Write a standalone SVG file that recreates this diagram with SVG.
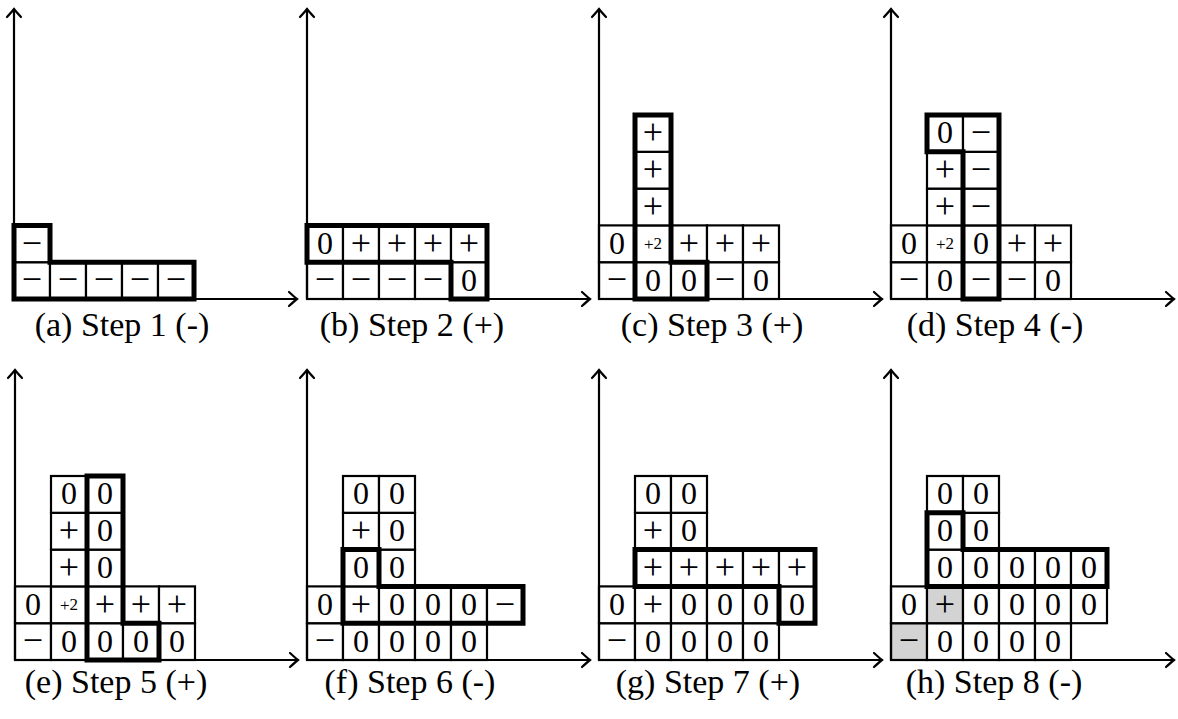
<svg xmlns="http://www.w3.org/2000/svg" width="1178" height="719" viewBox="0 0 1178 719">
<style>
.bg{fill:#fff}
.c{fill:#fff;stroke:#000;stroke-width:2.2}
.g{fill:#d3d3d3;stroke:#000;stroke-width:2.2}
.k{fill:none;stroke:#000;stroke-width:5;stroke-linejoin:miter}
.ax{fill:none;stroke:#000;stroke-width:2.2}
.t{font-family:"Liberation Serif",serif;font-size:32px;text-anchor:middle;fill:#000}
.s{font-family:"Liberation Serif",serif;font-size:36px;text-anchor:middle;fill:#000;transform:translate(0px,0.8px)}
.q{font-family:"Liberation Serif",serif;font-size:17px;text-anchor:middle;fill:#000}
.cap{font-family:"Liberation Serif",serif;font-size:34px;text-anchor:middle;fill:#000}
</style>
<defs>
<marker id="ar" markerUnits="userSpaceOnUse" markerWidth="20" markerHeight="20" viewBox="-10 -10 20 20" refX="0" refY="0" orient="auto">
<path d="M-8,-7 Q-2,-1.5 0,0 Q-2,1.5 -8,7" fill="none" stroke="#000" stroke-width="2.2" stroke-linecap="round"/>
</marker>
</defs>
<rect class="bg" x="0" y="0" width="1178" height="719"/>

<g id="panel-a" transform="translate(14,299)">
<rect class="c" x="0" y="-36.8" width="36" height="36.8"/><rect class="c" x="36" y="-36.8" width="36" height="36.8"/><rect class="c" x="72" y="-36.8" width="36" height="36.8"/><rect class="c" x="108" y="-36.8" width="36" height="36.8"/><rect class="c" x="144" y="-36.8" width="36" height="36.8"/>
<rect class="c" x="0" y="-73.6" width="36" height="36.8"/>
<text class="s" x="18" y="-8.4">−</text><text class="s" x="54" y="-8.4">−</text><text class="s" x="90" y="-8.4">−</text><text class="s" x="126" y="-8.4">−</text><text class="s" x="162" y="-8.4">−</text>
<text class="s" x="18" y="-45.2">−</text>
<polygon class="k" points="0,0 180,0 180,-36.8 36,-36.8 36,-73.6 0,-73.6"/>
</g>

<g id="panel-b" transform="translate(307,299)">
<rect class="c" x="0" y="-36.8" width="36" height="36.8"/><rect class="c" x="36" y="-36.8" width="36" height="36.8"/><rect class="c" x="72" y="-36.8" width="36" height="36.8"/><rect class="c" x="108" y="-36.8" width="36" height="36.8"/><rect class="c" x="144" y="-36.8" width="36" height="36.8"/>
<rect class="c" x="0" y="-73.6" width="36" height="36.8"/><rect class="c" x="36" y="-73.6" width="36" height="36.8"/><rect class="c" x="72" y="-73.6" width="36" height="36.8"/><rect class="c" x="108" y="-73.6" width="36" height="36.8"/><rect class="c" x="144" y="-73.6" width="36" height="36.8"/>
<text class="s" x="18" y="-8.4">−</text><text class="s" x="54" y="-8.4">−</text><text class="s" x="90" y="-8.4">−</text><text class="s" x="126" y="-8.4">−</text><text class="t" x="162" y="-8.4">0</text>
<text class="t" x="18" y="-45.2">0</text><text class="s" x="54" y="-45.2">+</text><text class="s" x="90" y="-45.2">+</text><text class="s" x="126" y="-45.2">+</text><text class="s" x="162" y="-45.2">+</text>
<polygon class="k" points="0,-36.8 144,-36.8 144,0 180,0 180,-73.6 0,-73.6"/>
</g>

<g id="panel-c" transform="translate(599,299)">
<rect class="c" x="0" y="-36.8" width="36" height="36.8"/><rect class="c" x="36" y="-36.8" width="36" height="36.8"/><rect class="c" x="72" y="-36.8" width="36" height="36.8"/><rect class="c" x="108" y="-36.8" width="36" height="36.8"/><rect class="c" x="144" y="-36.8" width="36" height="36.8"/>
<rect class="c" x="0" y="-73.6" width="36" height="36.8"/><rect class="c" x="36" y="-73.6" width="36" height="36.8"/><rect class="c" x="72" y="-73.6" width="36" height="36.8"/><rect class="c" x="108" y="-73.6" width="36" height="36.8"/><rect class="c" x="144" y="-73.6" width="36" height="36.8"/>
<rect class="c" x="36" y="-110.4" width="36" height="36.8"/><rect class="c" x="36" y="-147.2" width="36" height="36.8"/><rect class="c" x="36" y="-184" width="36" height="36.8"/>
<text class="s" x="18" y="-8.4">−</text><text class="t" x="54" y="-8.4">0</text><text class="t" x="90" y="-8.4">0</text><text class="s" x="126" y="-8.4">−</text><text class="t" x="162" y="-8.4">0</text>
<text class="t" x="18" y="-45.2">0</text><text class="q" x="54" y="-49.5">+<tspan dy="-1">2</tspan></text><text class="s" x="90" y="-45.2">+</text><text class="s" x="126" y="-45.2">+</text><text class="s" x="162" y="-45.2">+</text>
<text class="s" x="54" y="-82">+</text><text class="s" x="54" y="-118.8">+</text><text class="s" x="54" y="-155.6">+</text>
<polygon class="k" points="36,0 108,0 108,-36.8 72,-36.8 72,-184 36,-184"/>
</g>

<g id="panel-d" transform="translate(891,299)">
<rect class="c" x="0" y="-36.8" width="36" height="36.8"/><rect class="c" x="36" y="-36.8" width="36" height="36.8"/><rect class="c" x="72" y="-36.8" width="36" height="36.8"/><rect class="c" x="108" y="-36.8" width="36" height="36.8"/><rect class="c" x="144" y="-36.8" width="36" height="36.8"/>
<rect class="c" x="0" y="-73.6" width="36" height="36.8"/><rect class="c" x="36" y="-73.6" width="36" height="36.8"/><rect class="c" x="72" y="-73.6" width="36" height="36.8"/><rect class="c" x="108" y="-73.6" width="36" height="36.8"/><rect class="c" x="144" y="-73.6" width="36" height="36.8"/>
<rect class="c" x="36" y="-110.4" width="36" height="36.8"/><rect class="c" x="72" y="-110.4" width="36" height="36.8"/>
<rect class="c" x="36" y="-147.2" width="36" height="36.8"/><rect class="c" x="72" y="-147.2" width="36" height="36.8"/>
<rect class="c" x="36" y="-184" width="36" height="36.8"/><rect class="c" x="72" y="-184" width="36" height="36.8"/>
<text class="s" x="18" y="-8.4">−</text><text class="t" x="54" y="-8.4">0</text><text class="s" x="90" y="-8.4">−</text><text class="s" x="126" y="-8.4">−</text><text class="t" x="162" y="-8.4">0</text>
<text class="t" x="18" y="-45.2">0</text><text class="q" x="54" y="-49.5">+<tspan dy="-1">2</tspan></text><text class="t" x="90" y="-45.2">0</text><text class="s" x="126" y="-45.2">+</text><text class="s" x="162" y="-45.2">+</text>
<text class="s" x="54" y="-82">+</text><text class="s" x="90" y="-82">−</text>
<text class="s" x="54" y="-118.8">+</text><text class="s" x="90" y="-118.8">−</text>
<text class="t" x="54" y="-155.6">0</text><text class="s" x="90" y="-155.6">−</text>
<polygon class="k" points="72,0 108,0 108,-184 36,-184 36,-147.2 72,-147.2"/>
</g>

<g id="panel-e" transform="translate(15,660)">
<rect class="c" x="0" y="-36.8" width="36" height="36.8"/><rect class="c" x="36" y="-36.8" width="36" height="36.8"/><rect class="c" x="72" y="-36.8" width="36" height="36.8"/><rect class="c" x="108" y="-36.8" width="36" height="36.8"/><rect class="c" x="144" y="-36.8" width="36" height="36.8"/>
<rect class="c" x="0" y="-73.6" width="36" height="36.8"/><rect class="c" x="36" y="-73.6" width="36" height="36.8"/><rect class="c" x="72" y="-73.6" width="36" height="36.8"/><rect class="c" x="108" y="-73.6" width="36" height="36.8"/><rect class="c" x="144" y="-73.6" width="36" height="36.8"/>
<rect class="c" x="36" y="-110.4" width="36" height="36.8"/><rect class="c" x="72" y="-110.4" width="36" height="36.8"/>
<rect class="c" x="36" y="-147.2" width="36" height="36.8"/><rect class="c" x="72" y="-147.2" width="36" height="36.8"/>
<rect class="c" x="36" y="-184" width="36" height="36.8"/><rect class="c" x="72" y="-184" width="36" height="36.8"/>
<text class="s" x="18" y="-8.4">−</text><text class="t" x="54" y="-8.4">0</text><text class="t" x="90" y="-8.4">0</text><text class="t" x="126" y="-8.4">0</text><text class="t" x="162" y="-8.4">0</text>
<text class="t" x="18" y="-45.2">0</text><text class="q" x="54" y="-49.5">+<tspan dy="-1">2</tspan></text><text class="s" x="90" y="-45.2">+</text><text class="s" x="126" y="-45.2">+</text><text class="s" x="162" y="-45.2">+</text>
<text class="s" x="54" y="-82">+</text><text class="t" x="90" y="-82">0</text>
<text class="s" x="54" y="-118.8">+</text><text class="t" x="90" y="-118.8">0</text>
<text class="t" x="54" y="-155.6">0</text><text class="t" x="90" y="-155.6">0</text>
<polygon class="k" points="72,0 144,0 144,-36.8 108,-36.8 108,-184 72,-184"/>
</g>

<g id="panel-f" transform="translate(307,660)">
<rect class="c" x="0" y="-36.8" width="36" height="36.8"/><rect class="c" x="36" y="-36.8" width="36" height="36.8"/><rect class="c" x="72" y="-36.8" width="36" height="36.8"/><rect class="c" x="108" y="-36.8" width="36" height="36.8"/><rect class="c" x="144" y="-36.8" width="36" height="36.8"/>
<rect class="c" x="0" y="-73.6" width="36" height="36.8"/><rect class="c" x="36" y="-73.6" width="36" height="36.8"/><rect class="c" x="72" y="-73.6" width="36" height="36.8"/><rect class="c" x="108" y="-73.6" width="36" height="36.8"/><rect class="c" x="144" y="-73.6" width="36" height="36.8"/><rect class="c" x="180" y="-73.6" width="36" height="36.8"/>
<rect class="c" x="36" y="-110.4" width="36" height="36.8"/><rect class="c" x="72" y="-110.4" width="36" height="36.8"/>
<rect class="c" x="36" y="-147.2" width="36" height="36.8"/><rect class="c" x="72" y="-147.2" width="36" height="36.8"/>
<rect class="c" x="36" y="-184" width="36" height="36.8"/><rect class="c" x="72" y="-184" width="36" height="36.8"/>
<text class="s" x="18" y="-8.4">−</text><text class="t" x="54" y="-8.4">0</text><text class="t" x="90" y="-8.4">0</text><text class="t" x="126" y="-8.4">0</text><text class="t" x="162" y="-8.4">0</text>
<text class="t" x="18" y="-45.2">0</text><text class="s" x="54" y="-45.2">+</text><text class="t" x="90" y="-45.2">0</text><text class="t" x="126" y="-45.2">0</text><text class="t" x="162" y="-45.2">0</text><text class="s" x="198" y="-45.2">−</text>
<text class="t" x="54" y="-82">0</text><text class="t" x="90" y="-82">0</text>
<text class="s" x="54" y="-118.8">+</text><text class="t" x="90" y="-118.8">0</text>
<text class="t" x="54" y="-155.6">0</text><text class="t" x="90" y="-155.6">0</text>
<polygon class="k" points="36,-36.8 216,-36.8 216,-73.6 72,-73.6 72,-110.4 36,-110.4"/>
</g>

<g id="panel-g" transform="translate(599,660)">
<rect class="c" x="0" y="-36.8" width="36" height="36.8"/><rect class="c" x="36" y="-36.8" width="36" height="36.8"/><rect class="c" x="72" y="-36.8" width="36" height="36.8"/><rect class="c" x="108" y="-36.8" width="36" height="36.8"/><rect class="c" x="144" y="-36.8" width="36" height="36.8"/>
<rect class="c" x="0" y="-73.6" width="36" height="36.8"/><rect class="c" x="36" y="-73.6" width="36" height="36.8"/><rect class="c" x="72" y="-73.6" width="36" height="36.8"/><rect class="c" x="108" y="-73.6" width="36" height="36.8"/><rect class="c" x="144" y="-73.6" width="36" height="36.8"/><rect class="c" x="180" y="-73.6" width="36" height="36.8"/>
<rect class="c" x="36" y="-110.4" width="36" height="36.8"/><rect class="c" x="72" y="-110.4" width="36" height="36.8"/><rect class="c" x="108" y="-110.4" width="36" height="36.8"/><rect class="c" x="144" y="-110.4" width="36" height="36.8"/><rect class="c" x="180" y="-110.4" width="36" height="36.8"/>
<rect class="c" x="36" y="-147.2" width="36" height="36.8"/><rect class="c" x="72" y="-147.2" width="36" height="36.8"/>
<rect class="c" x="36" y="-184" width="36" height="36.8"/><rect class="c" x="72" y="-184" width="36" height="36.8"/>
<text class="s" x="18" y="-8.4">−</text><text class="t" x="54" y="-8.4">0</text><text class="t" x="90" y="-8.4">0</text><text class="t" x="126" y="-8.4">0</text><text class="t" x="162" y="-8.4">0</text>
<text class="t" x="18" y="-45.2">0</text><text class="s" x="54" y="-45.2">+</text><text class="t" x="90" y="-45.2">0</text><text class="t" x="126" y="-45.2">0</text><text class="t" x="162" y="-45.2">0</text><text class="t" x="198" y="-45.2">0</text>
<text class="s" x="54" y="-82">+</text><text class="s" x="90" y="-82">+</text><text class="s" x="126" y="-82">+</text><text class="s" x="162" y="-82">+</text><text class="s" x="198" y="-82">+</text>
<text class="s" x="54" y="-118.8">+</text><text class="t" x="90" y="-118.8">0</text>
<text class="t" x="54" y="-155.6">0</text><text class="t" x="90" y="-155.6">0</text>
<polygon class="k" points="36,-73.6 180,-73.6 180,-36.8 216,-36.8 216,-110.4 36,-110.4"/>
</g>

<g id="panel-h" transform="translate(891,660)">
<rect class="g" x="0" y="-36.8" width="36" height="36.8"/><rect class="c" x="36" y="-36.8" width="36" height="36.8"/><rect class="c" x="72" y="-36.8" width="36" height="36.8"/><rect class="c" x="108" y="-36.8" width="36" height="36.8"/><rect class="c" x="144" y="-36.8" width="36" height="36.8"/>
<rect class="c" x="0" y="-73.6" width="36" height="36.8"/><rect class="g" x="36" y="-73.6" width="36" height="36.8"/><rect class="c" x="72" y="-73.6" width="36" height="36.8"/><rect class="c" x="108" y="-73.6" width="36" height="36.8"/><rect class="c" x="144" y="-73.6" width="36" height="36.8"/><rect class="c" x="180" y="-73.6" width="36" height="36.8"/>
<rect class="c" x="36" y="-110.4" width="36" height="36.8"/><rect class="c" x="72" y="-110.4" width="36" height="36.8"/><rect class="c" x="108" y="-110.4" width="36" height="36.8"/><rect class="c" x="144" y="-110.4" width="36" height="36.8"/><rect class="c" x="180" y="-110.4" width="36" height="36.8"/>
<rect class="c" x="36" y="-147.2" width="36" height="36.8"/><rect class="c" x="72" y="-147.2" width="36" height="36.8"/>
<rect class="c" x="36" y="-184" width="36" height="36.8"/><rect class="c" x="72" y="-184" width="36" height="36.8"/>
<text class="s" x="18" y="-8.4">−</text><text class="t" x="54" y="-8.4">0</text><text class="t" x="90" y="-8.4">0</text><text class="t" x="126" y="-8.4">0</text><text class="t" x="162" y="-8.4">0</text>
<text class="t" x="18" y="-45.2">0</text><text class="s" x="54" y="-45.2">+</text><text class="t" x="90" y="-45.2">0</text><text class="t" x="126" y="-45.2">0</text><text class="t" x="162" y="-45.2">0</text><text class="t" x="198" y="-45.2">0</text>
<text class="t" x="54" y="-82">0</text><text class="t" x="90" y="-82">0</text><text class="t" x="126" y="-82">0</text><text class="t" x="162" y="-82">0</text><text class="t" x="198" y="-82">0</text>
<text class="t" x="54" y="-118.8">0</text><text class="t" x="90" y="-118.8">0</text>
<text class="t" x="54" y="-155.6">0</text><text class="t" x="90" y="-155.6">0</text>
<polygon class="k" points="36,-73.6 216,-73.6 216,-110.4 72,-110.4 72,-147.2 36,-147.2"/>
</g>

<g id="connectors">
<path class="ax" d="M14,299 V9" marker-end="url(#ar)"/><path class="ax" d="M14,299 H297" marker-end="url(#ar)"/>
<path class="ax" d="M307,299 V9" marker-end="url(#ar)"/><path class="ax" d="M307,299 H590" marker-end="url(#ar)"/>
<path class="ax" d="M599,299 V9" marker-end="url(#ar)"/><path class="ax" d="M599,299 H882" marker-end="url(#ar)"/>
<path class="ax" d="M891,299 V9" marker-end="url(#ar)"/><path class="ax" d="M891,299 H1174" marker-end="url(#ar)"/>
<path class="ax" d="M15,660 V370" marker-end="url(#ar)"/><path class="ax" d="M15,660 H298" marker-end="url(#ar)"/>
<path class="ax" d="M307,660 V370" marker-end="url(#ar)"/><path class="ax" d="M307,660 H590" marker-end="url(#ar)"/>
<path class="ax" d="M599,660 V370" marker-end="url(#ar)"/><path class="ax" d="M599,660 H882" marker-end="url(#ar)"/>
<path class="ax" d="M891,660 V370" marker-end="url(#ar)"/><path class="ax" d="M891,660 H1174" marker-end="url(#ar)"/>
</g>

<g id="captions">
<text class="cap" x="122" y="336">(a) Step 1 (-)</text>
<text class="cap" x="412" y="336">(b) Step 2 (+)</text>
<text class="cap" x="712" y="336">(c) Step 3 (+)</text>
<text class="cap" x="995" y="336">(d) Step 4 (-)</text>
<text class="cap" x="116" y="693">(e) Step 5 (+)</text>
<text class="cap" x="410" y="693">(f) Step 6 (-)</text>
<text class="cap" x="708" y="693">(g) Step 7 (+)</text>
<text class="cap" x="994" y="693">(h) Step 8 (-)</text>
</g>
</svg>
